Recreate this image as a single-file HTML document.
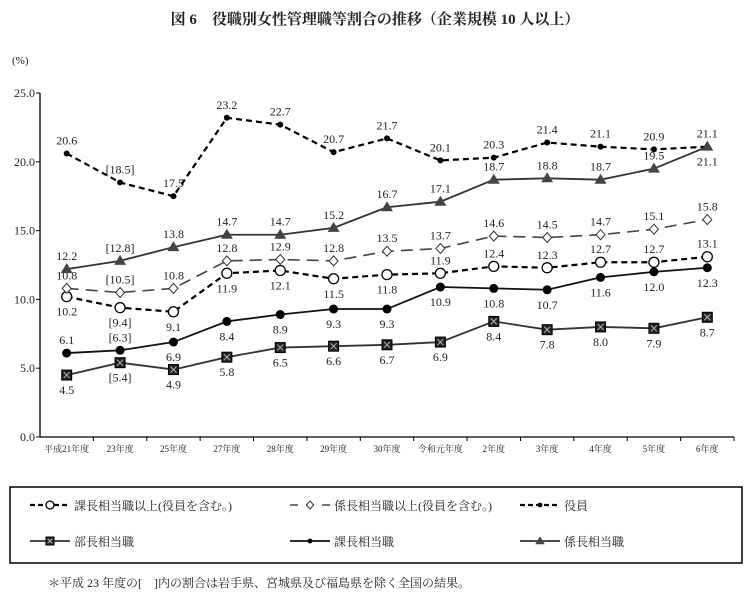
<!DOCTYPE html>
<html><head><meta charset="utf-8"><style>
body{margin:0;background:#fff;width:750px;height:595px;overflow:hidden;font-family:"Liberation Serif","Noto Serif CJK SC",serif;}
svg text{font-family:"Liberation Serif","Noto Serif CJK SC",serif;fill:#222;}
</style></head><body>
<svg id="chart" width="750" height="595" xmlns="http://www.w3.org/2000/svg">
<text x="375" y="24" text-anchor="middle" font-size="15" font-weight="bold" font-family="'Liberation Sans','Noto Sans CJK JP',sans-serif">図 6　役職別女性管理職等割合の推移（企業規模 10 人以上）</text>
<text x="12" y="64" font-size="11">(%)</text>
<g id="axes"></g><g id="series"></g>
<rect x="10" y="487" width="732" height="76" fill="none" stroke="#000" stroke-width="1.5"/>
<g id="legend"></g>
<text x="48" y="587" font-size="12">＊平成 23 年度の[　]内の割合は岩手県、宮城県及び福島県を除く全国の結果。</text>
</svg>
<script>
const categories=["平成21年度","23年度","25年度","27年度","28年度","29年度","30年度","令和元年度","2年度","3年度","4年度","5年度","6年度"];
const yTicks=[0,5,10,15,20,25];
const kachoIjo=[10.2,9.4,9.1,11.9,12.1,11.5,11.8,11.9,12.4,12.3,12.7,12.7,13.1];
const kakarichoIjo=[10.8,10.5,10.8,12.8,12.9,12.8,13.5,13.7,14.6,14.5,14.7,15.1,15.8];
const yakuin=[20.6,18.5,17.5,23.2,22.7,20.7,21.7,20.1,20.3,21.4,21.1,20.9,21.1];
const bucho=[4.5,5.4,4.9,5.8,6.5,6.6,6.7,6.9,8.4,7.8,8.0,7.9,8.7];
const kacho=[6.1,6.3,6.9,8.4,8.9,9.3,9.3,10.9,10.8,10.7,11.6,12.0,12.3];
const kakaricho=[12.2,12.8,13.8,14.7,14.7,15.2,16.7,17.1,18.7,18.8,18.7,19.5,21.1];
const bracketIndex=1;
const NS="http://www.w3.org/2000/svg";
const X0=40,X1=734,Y0=437,Y1=93;
const bw=(X1-X0)/categories.length;
const xs=i=>X0+(i+0.5)*bw;
const ys=v=>Y0-(v/25)*(Y0-Y1);
function mk(tag,attrs,parent){const e=document.createElementNS(NS,tag);for(const k in attrs)e.setAttribute(k,attrs[k]);parent.appendChild(e);return e;}
const axes=document.getElementById('axes');
let a=mk('line',{x1:X0,y1:Y1,x2:X0,y2:Y0,stroke:'#000','stroke-width':1.3},axes);


a=mk('line',{x1:X0,y1:Y0,x2:X1,y2:Y0,stroke:'#000','stroke-width':1.3},axes);


yTicks.forEach(t=>{
 const l=mk('line',{x1:X0-4,y1:ys(t),x2:X0,y2:ys(t),stroke:'#000'},axes);
 
 
 const tx=mk('text',{x:X0-5,y:ys(t)+4,'text-anchor':'end','font-size':12},axes);
 tx.textContent=t.toFixed(1);
 
 
});
categories.forEach((c,i)=>{
 const l=mk('line',{x1:X0+(i+1)*bw,y1:Y0,x2:X0+(i+1)*bw,y2:Y0+4,stroke:'#000'},axes);
 
 
 const tx=mk('text',{x:xs(i),y:Y0+15,'text-anchor':'middle','font-size':9},axes);
 tx.textContent=c;
 
 
});
function marker(g,type,x,y,s){
 s=s||1;let m;
 if(type==='opencircle')m=mk('circle',{cx:x,cy:y,r:5*s,fill:'#fff',stroke:'#000','stroke-width':1.3},g);
 else if(type==='diamond')m=mk('polygon',{points:`${x},${y-5*s} ${x+4.5*s},${y} ${x},${y+5*s} ${x-4.5*s},${y}`,fill:'#fff',stroke:'#333','stroke-width':1},g);
 else if(type==='dot')m=mk('circle',{cx:x,cy:y,r:3*s,fill:'#000'},g);
 else if(type==='bigdot')m=mk('circle',{cx:x,cy:y,r:4.5*s,fill:'#000'},g);
 else if(type==='square'){m=mk('g',{},g);mk('rect',{x:x-5*s,y:y-5*s,width:10*s,height:10*s,fill:'#222',stroke:'#000'},m);mk('path',{d:`M${x-3*s} ${y-3*s}L${x+3*s} ${y+3*s}M${x+3*s} ${y-3*s}L${x-3*s} ${y+3*s}`,stroke:'#bbb','stroke-width':1},m);}
 else if(type==='triangle')m=mk('polygon',{points:`${x},${y-6*s} ${x+6*s},${y+4*s} ${x-6*s},${y+4*s}`,fill:'#444'},g);
 
 
}
const seriesDefs=[
 {name:'series-kacho-ijo',data:kachoIjo,dash:'6,4',w:2.2,color:'#000',mark:'opencircle',below:[1,1,1,1,1,1,1,0,0,0,0,0,0],legend:'課長相当職以上(役員を含む。)',lx:30,ly:505},
 {name:'series-kakaricho-ijo',data:kakarichoIjo,dash:'12,7',w:1.6,color:'#444',mark:'diamond',below:[0,0,0,0,0,0,0,0,0,0,0,0,0],legend:'係長相当職以上(役員を含む。)',lx:290,ly:505},
 {name:'series-yakuin',data:yakuin,dash:'6,4',w:2.2,color:'#000',mark:'dot',below:[0,0,0,0,0,0,0,0,0,0,0,0,0],legend:'役員',lx:520,ly:505},
 {name:'series-bucho',data:bucho,dash:'',w:1.8,color:'#333',mark:'square',below:[1,1,1,1,1,1,1,1,1,1,1,1,1],legend:'部長相当職',lx:30,ly:541},
 {name:'series-kacho',data:kacho,dash:'',w:1.8,color:'#111',mark:'bigdot',below:[0,0,1,1,1,1,1,1,1,1,1,1,1],legend:'課長相当職',lx:290,ly:541},
 {name:'series-kakaricho',data:kakaricho,dash:'',w:1.8,color:'#333',mark:'triangle',below:[0,0,0,0,0,0,0,0,0,0,0,0,1],legend:'係長相当職',lx:520,ly:541}
];
const sg=document.getElementById('series');
seriesDefs.forEach(s=>{
 const g=mk('g',{},sg);
 
 
 const p=mk('polyline',{points:s.data.map((v,i)=>xs(i)+','+ys(v)).join(' '),fill:'none',stroke:s.color,'stroke-width':s.w,'stroke-dasharray':s.dash},g);
 
 
 s.data.forEach((v,i)=>{
  marker(g,s.mark,xs(i),ys(v));
  const t=mk('text',{x:xs(i),y:s.below[i]?ys(v)+19:ys(v)-9,'text-anchor':'middle','font-size':12},g);
  t.textContent=i===bracketIndex?'['+v.toFixed(1)+']':v.toFixed(1);
  
  
 });
 const lg=mk('g',{},document.getElementById('legend'));
 
 
 mk('line',{x1:s.lx,y1:s.ly,x2:s.lx+40,y2:s.ly,stroke:s.color,'stroke-width':s.w,'stroke-dasharray':s.dash?(s.dash==='12,7'?'8,8':'5,3'):''},lg);
 const mt=s.mark==='bigdot'?'dot':s.mark;
 marker(lg,mt,s.lx+20,s.ly,0.8);
 const t=mk('text',{x:s.lx+44,y:s.ly+5,'font-size':12},lg);
 t.textContent=s.legend;
});
</script>
</body></html>
